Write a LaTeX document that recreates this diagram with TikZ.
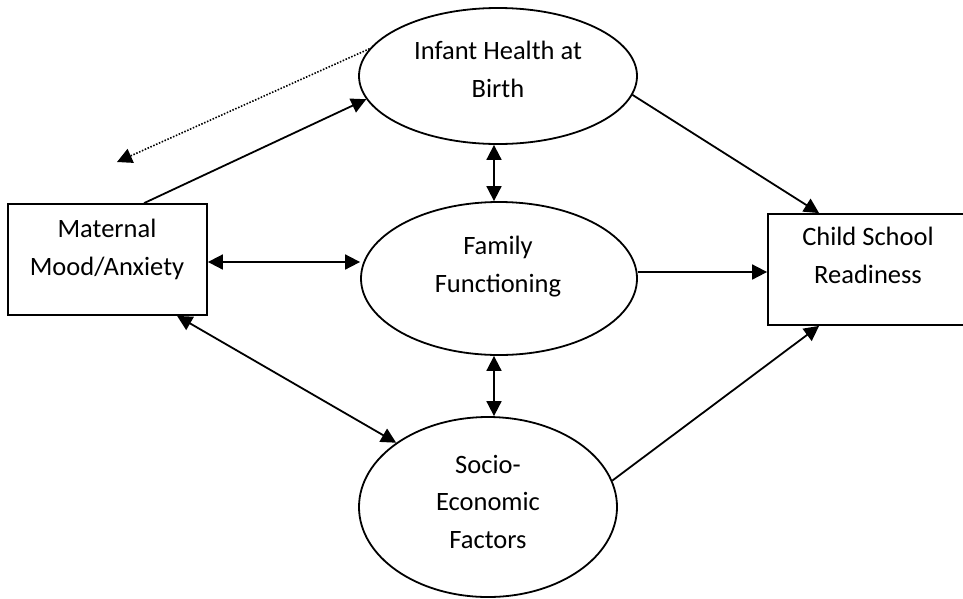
\documentclass[tikz,border=0pt]{standalone}
\usepackage{fontspec}
\setmainfont{Carlito}
\usetikzlibrary{arrows.meta,shapes.geometric}

\tikzset{
  boxshape/.style={draw, line width=1.8pt, rectangle, inner sep=0pt},
  ovalshape/.style={draw, line width=1.8pt, ellipse, inner sep=0pt},
  label text/.style={anchor=base, align=center, inner sep=0pt,
    font=\fontsize{26.5}{38}\selectfont},
  link/.style={line width=1.8pt, -{Triangle[length=15pt,width=15pt]}},
  twoway/.style={line width=1.8pt, {Triangle[length=15pt,width=15pt]}-{Triangle[length=15pt,width=15pt]}},
  hint/.style={line width=1.6pt, dash pattern=on 1.5pt off 1.6pt,
    -{Triangle[length=15pt,width=15pt]}}
}

\begin{document}
\begin{tikzpicture}[x=1pt,y=-1pt]
  \useasboundingbox (0,0) rectangle (963,598);

  % shapes
  \node[boxshape, minimum width=199pt, minimum height=111pt] (mat) at (107.5,259.5) {};
  \node[boxshape, minimum width=240pt, minimum height=111pt] (child) at (888,269.5) {};
  \node[ovalshape, minimum width=278pt, minimum height=136pt] (inf) at (498,76) {};
  \node[ovalshape, minimum width=276pt, minimum height=153pt] (fam) at (499,278.5) {};
  \node[ovalshape, minimum width=258pt, minimum height=180pt] (soc) at (488,507) {};

  % texts
  \node[label text] (matT) at (107,275) {Maternal\\Mood/Anxiety};
  \node[label text] (childT) at (868,283) {Child School\\Readiness};
  \node[label text] (infT) at (498,97) {Infant Health at\\Birth};
  \node[label text] (famT) at (498,292) {Family\\Functioning};
  \node[label text, font=\fontsize{26.5}{37.5}\selectfont] (socT) at (488,548) {Socio-\\Economic\\Factors};

  % connectors
  \coordinate (back) at (117,162);
  \draw[hint] (inf.168) -- (back);
  \draw[link] ([xshift=137pt]mat.north west) -- (inf.190);
  \draw[link] (inf.-8) -- ([xshift=52pt]child.north west);
  \coordinate (f1) at ([yshift=6.5pt]fam.east);
  \draw[link] (f1) -- (f1 -| child.west);
  \draw[link] (soc.12) -- ([xshift=52pt]child.south west);
  \coordinate (m1) at ([yshift=-2.5pt]mat.east);
  \draw[twoway] (m1) -- (m1 -| fam.west);
  \draw[twoway] ([xshift=170pt]mat.south west) -- (soc.145);
  \coordinate (i1) at ([xshift=-4pt]inf.south);
  \draw[twoway] (i1) -- (i1 |- fam.north);
  \coordinate (s1) at ([xshift=-5pt]fam.south);
  \draw[twoway] (s1) -- (s1 |- soc.north);
\end{tikzpicture}
\end{document}
